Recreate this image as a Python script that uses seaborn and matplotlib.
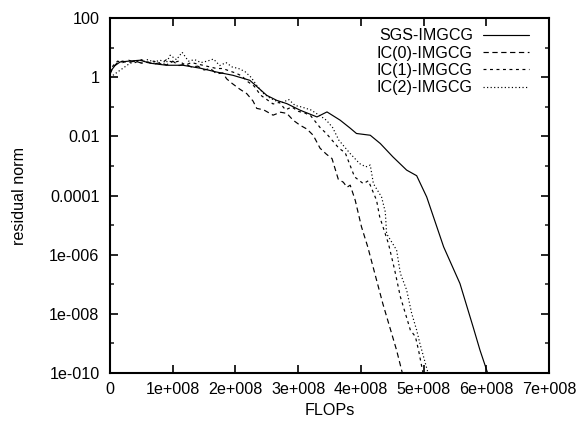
import numpy as np
import pandas as pd
import seaborn as sns
import matplotlib.pyplot as plt
from matplotlib.ticker import FixedLocator, NullFormatter

# Data: FLOPs in units of 1e8, residual norm as log10 exponent
sgs_x = [0, 0.08, 0.16, 0.3, 0.48, 0.64, 0.9, 1.16, 1.44, 1.7, 1.96, 2.23, 2.5, 2.66, 2.82, 3.03,
         3.3, 3.46, 3.67, 3.83, 3.93, 4.15, 4.31, 4.51, 4.73, 4.89, 5.05, 5.32, 5.58, 5.79, 5.9, 6.02]
sgs_e = [0.18, 0.4, 0.52, 0.55, 0.58, 0.48, 0.41, 0.41, 0.31, 0.18, 0.07, -0.1, -0.61, -0.78, -0.89, -1.11,
         -1.34, -1.17, -1.45, -1.72, -1.9, -1.96, -2.24, -2.69, -3.14, -3.33, -4.05, -5.74, -6.98, -8.45, -9.24, -10]

ic0_x = [0, 0.05, 0.12, 0.2, 0.3, 0.4, 0.5, 0.6, 0.7, 0.8, 0.9, 1.0, 1.1, 1.2, 1.3, 1.4, 1.5, 1.6, 1.7,
         1.8, 1.86, 1.95, 2.07, 2.18, 2.28, 2.34, 2.45, 2.6, 2.72, 2.82, 2.92, 3.03, 3.14, 3.24, 3.35, 3.45,
         3.54, 3.64, 3.72, 3.78, 3.83, 3.91, 4.01, 4.11, 4.23, 4.35, 4.46, 4.57, 4.66]
ic0_e = [0.1, 0.35, 0.5, 0.55, 0.5, 0.56, 0.48, 0.52, 0.45, 0.5, 0.42, 0.55, 0.4, 0.45, 0.35, 0.38, 0.25, 0.3, 0.12,
         0.15, -0.05, -0.21, -0.4, -0.55, -0.8, -1.05, -1.1, -1.28, -1.18, -1.22, -1.45, -1.62, -1.75, -1.96, -2.4, -2.6,
         -2.75, -3.45, -3.55, -3.72, -3.65, -4.16, -5.06, -5.74, -6.7, -7.66, -8.45, -9.24, -10]

ic1_x = [0, 0.05, 0.12, 0.2, 0.3, 0.4, 0.5, 0.6, 0.7, 0.8, 0.9, 1.0, 1.1, 1.2, 1.3, 1.4, 1.5, 1.6, 1.7, 1.8,
         1.9, 2.0, 2.1, 2.2, 2.3, 2.4, 2.5, 2.6, 2.7, 2.8, 2.9, 3.0, 3.1, 3.2, 3.35, 3.45, 3.55, 3.65, 3.75,
         3.9, 4.04, 4.12, 4.25, 4.3, 4.44, 4.54, 4.63, 4.79, 4.87, 4.92, 4.99]
ic1_e = [0.15, 0.4, 0.55, 0.5, 0.58, 0.5, 0.6, 0.5, 0.55, 0.45, 0.6, 0.5, 0.55, 0.42, 0.5, 0.45, 0.4, 0.35, 0.3, 0.3,
         0.22, 0.15, 0.05, -0.15, -0.3, -0.6, -0.75, -0.9, -0.85, -1.1, -1.0, -1.15, -1.2, -1.3, -1.7, -1.9, -2.15, -2.4, -2.55,
         -3.37, -3.6, -3.5, -4.16, -4.72, -5.63, -6.53, -7.43, -8.56, -8.78, -9.24, -10]

ic2_x = [0, 0.1, 0.2, 0.3, 0.4, 0.5, 0.6, 0.7, 0.8, 0.9, 0.96, 1.06, 1.15, 1.25, 1.35, 1.45, 1.55, 1.65, 1.75,
         1.85, 1.95, 2.05, 2.15, 2.25, 2.35, 2.45, 2.55, 2.65, 2.75, 2.85, 2.95, 3.05, 3.2, 3.35, 3.45, 3.55,
         3.65, 3.83, 3.98, 4.08, 4.15, 4.2, 4.33, 4.39, 4.41, 4.57, 4.63, 4.73, 4.81, 4.89, 4.94, 5.07]
ic2_e = [0.0, 0.15, 0.3, 0.45, 0.55, 0.5, 0.6, 0.52, 0.58, 0.5, 0.75, 0.6, 0.85, 0.55, 0.6, 0.5, 0.55, 0.62, 0.4,
         0.5, 0.35, 0.3, 0.2, 0.0, -0.3, -0.55, -0.7, -0.8, -0.85, -0.75, -0.95, -1.0, -1.1, -1.3, -1.45, -1.7,
         -2.13, -2.58, -2.92, -3.03, -2.97, -3.6, -4.05, -4.56, -5.29, -5.85, -6.64, -7.2, -7.99, -8.56, -9.0, -10]

methods = ['SGS-IMGCG', 'IC(0)-IMGCG', 'IC(1)-IMGCG', 'IC(2)-IMGCG']
x_ticks = [0, 1e8, 2e8, 3e8, 4e8, 5e8, 6e8, 7e8]
x_labels = ['0', '1e+008', '2e+008', '3e+008', '4e+008', '5e+008', '6e+008', '7e+008']
y_ticks = [1e2, 1e0, 1e-2, 1e-4, 1e-6, 1e-8, 1e-10]
y_labels = ['100', '1', '0.01', '0.0001', '1e-006', '1e-008', '1e-010']

frames = []
for name, xs, es in zip(methods, [sgs_x, ic0_x, ic1_x, ic2_x], [sgs_e, ic0_e, ic1_e, ic2_e]):
    frames.append(pd.DataFrame({'FLOPs': np.array(xs) * 1e8,
                                'residual': 10.0 ** np.array(es),
                                'method': name}))
df = pd.concat(frames, ignore_index=True)

sns.set_theme(style='ticks')
plt.rcParams['font.family'] = ['Liberation Sans', 'DejaVu Sans']
plt.rcParams['text.color'] = 'black'
plt.rcParams['axes.labelcolor'] = 'black'
fs = 11.6

fig = plt.figure(figsize=(5.78, 4.23), dpi=100)
ax = fig.add_axes([110 / 578, 1 - 372.7 / 423, 439 / 578, 354.4 / 423])

dash_styles = {'SGS-IMGCG': '', 'IC(0)-IMGCG': (4.5, 3), 'IC(1)-IMGCG': (2.5, 3), 'IC(2)-IMGCG': (1, 2)}
sns.lineplot(data=df, x='FLOPs', y='residual', hue='method', style='method',
             hue_order=methods, style_order=methods,
             palette=['black'] * 4, dashes=dash_styles, sort=False, estimator=None,
             linewidth=0.85, ax=ax)

ax.set_yscale('log')
ax.set_xlim(0, 7e8)
ax.set_ylim(1e-10, 1e2)
ax.set_xticks(x_ticks)
ax.set_xticklabels(x_labels)
ax.set_yticks(y_ticks)
ax.set_yticklabels(y_labels)
ax.yaxis.set_minor_locator(FixedLocator([1e1, 1e-1, 1e-3, 1e-5, 1e-7, 1e-9]))
ax.yaxis.set_minor_formatter(NullFormatter())
ax.tick_params(which='major', direction='in', top=True, right=True, length=6, width=1.2,
               labelsize=fs, colors='black')
ax.tick_params(axis='y', which='major', pad=7.5)
ax.tick_params(axis='x', which='major', pad=6.5)
ax.tick_params(which='minor', direction='in', left=True, right=True, length=3, width=1.2)
for s in ax.spines.values():
    s.set_linewidth(1.5)
    s.set_color('black')

ax.set_xlabel('FLOPs', fontsize=fs, color='black')
ax.set_ylabel('residual norm', fontsize=fs, color='black')
ax.xaxis.set_label_coords(0.5, -0.085)
ax.yaxis.set_label_coords(-0.19, 0.5)

handles, labels = ax.get_legend_handles_labels()
ax.legend(handles, labels, loc='upper right', bbox_to_anchor=(0.955, 0.972), markerfirst=False,
          frameon=False, fontsize=fs, handlelength=2.9, handletextpad=0.6, labelspacing=0.15,
          borderaxespad=0, borderpad=0)

fig.savefig('out.png', dpi=100)
